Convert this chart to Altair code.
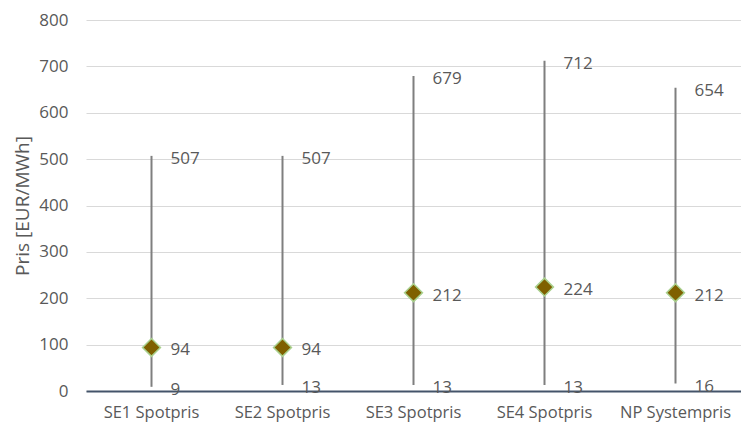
import altair as alt
import pandas as pd

areas = ["SE1 Spotpris", "SE2 Spotpris", "SE3 Spotpris", "SE4 Spotpris", "NP Systempris"]
max_price = [507, 507, 679, 712, 654]
mean_price = [94, 94, 212, 224, 212]
min_price = [9, 13, 13, 13, 16]

df = pd.DataFrame({"area": areas, "max": max_price, "mean": mean_price, "min": min_price})

FONT = "Open Sans"
TXT = "#595959"

x = alt.X("area:N", sort=areas, title=None,
          scale=alt.Scale(paddingInner=0, paddingOuter=0),
          axis=alt.Axis(labelAngle=0, labelFontSize=16.5, labelColor=TXT, labelFont=FONT,
                        ticks=False, domainColor="#44546a", domainWidth=2, labelPadding=13))
y_scale = alt.Scale(domain=[0, 800], nice=False)

base = alt.Chart(df).encode(x=x)

rule = base.mark_rule(color="#7f7f7f", strokeWidth=2).encode(
    y=alt.Y("min:Q", scale=y_scale, title="Pris [EUR/MWh]",
            axis=alt.Axis(values=list(range(0, 801, 100)), labelFontSize=17, labelColor=TXT,
                          labelFont=FONT, titleFont=FONT, titleFontSize=19, titleColor=TXT,
                          titleFontWeight="normal", ticks=False, domain=False,
                          gridColor="#d9d9d9", labelPadding=18, titlePadding=6)),
    y2="max:Q",
)

points = base.mark_point(shape="diamond", filled=True, size=320, fill="#7f6000",
                         stroke="#a9d18e", strokeWidth=1.5, opacity=1).encode(
    y=alt.Y("mean:Q", scale=y_scale)
)

def label(field):
    return base.mark_text(align="left", baseline="middle", dx=19, dy=3, fontSize=17,
                          font=FONT, color=TXT).encode(
        y=alt.Y(f"{field}:Q", scale=y_scale), text=alt.Text(f"{field}:Q")
    )

chart = alt.layer(rule, points, label("max"), label("mean"), label("min")).properties(
    width=655, height=371,
    autosize=alt.AutoSizeParams(type="none"),
    padding={"left": 86, "top": 20, "right": 0, "bottom": 34},
).configure_view(stroke=None)

chart.save("out.html", embed_options={"renderer": "svg", "actions": False})
